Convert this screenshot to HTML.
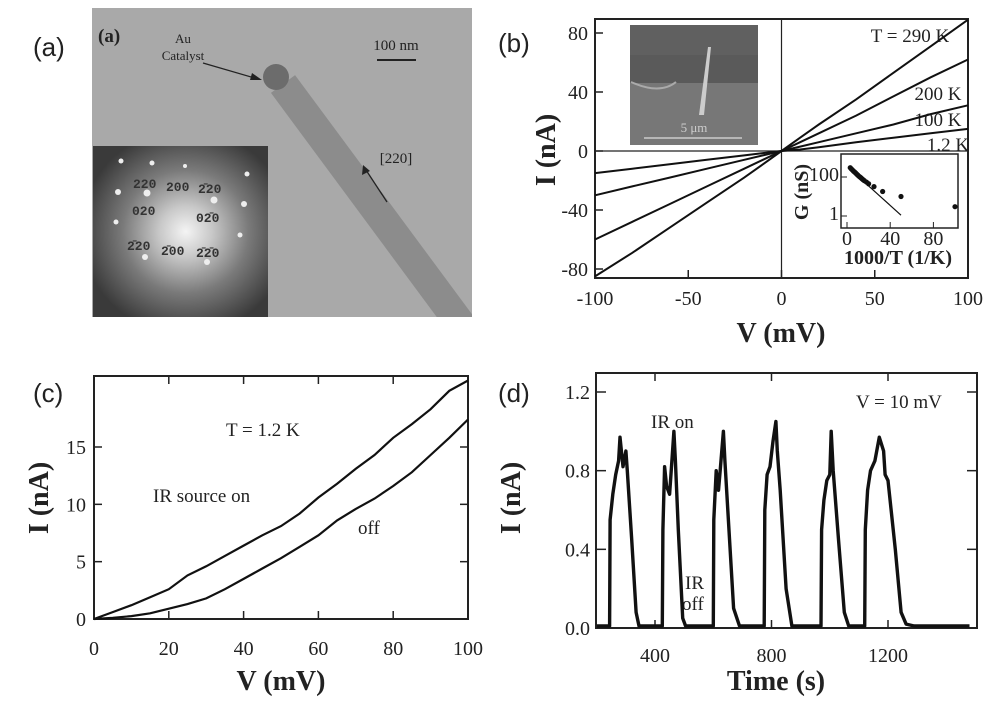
<!DOCTYPE html>
<html><head><meta charset="utf-8">
<style>
html,body{margin:0;padding:0;background:#fff;}
svg{display:block;}
.tk{font-family:"Liberation Serif",serif;font-size:20px;fill:#222;}
.ti{font-family:"Liberation Serif",serif;font-size:28px;font-weight:bold;fill:#222;}
.pl{font-family:"Liberation Sans",sans-serif;font-size:26px;fill:#222;}
.an{font-family:"Liberation Serif",serif;font-size:19px;fill:#222;}
</style></head>
<body>
<svg id="fig" width="1000" height="704" viewBox="0 0 1000 704" xmlns="http://www.w3.org/2000/svg">
<defs>
<radialGradient id="sad" cx="0.53" cy="0.5" r="0.6">
<stop offset="0" stop-color="#f4f4f4"/><stop offset="0.25" stop-color="#c8c8c8"/><stop offset="0.6" stop-color="#7a7a7a"/><stop offset="1" stop-color="#3a3a3a"/>
</radialGradient>
<clipPath id="clipA"><rect x="92" y="8" width="380" height="309"/></clipPath>
</defs>

<!-- Panel a -->
<g>
<text class="pl" x="33" y="56">(a)</text>
<rect x="92" y="8" width="380" height="309" fill="#a9a9a9"/>
<g clip-path="url(#clipA)">
<line x1="283" y1="84" x2="465" y2="330" stroke="#8c8c8c" stroke-width="30"/>
</g>
<circle cx="276" cy="77" r="13" fill="#6c6c6c"/>
<text x="98" y="42" font-family="Liberation Serif,serif" font-weight="bold" font-size="19" fill="#222">(a)</text>
<text x="183" y="43" text-anchor="middle" font-family="Liberation Serif,serif" font-size="13" fill="#222">Au</text>
<text x="183" y="60" text-anchor="middle" font-family="Liberation Serif,serif" font-size="13" fill="#222">Catalyst</text>
<line x1="203" y1="63" x2="258" y2="79" stroke="#222" stroke-width="1.3"/>
<polygon points="262,80 252,73 250,80" fill="#222"/>
<text x="396" y="50" text-anchor="middle" font-family="Liberation Serif,serif" font-size="15" fill="#222">100 nm</text>
<line x1="377" y1="60" x2="416" y2="60" stroke="#222" stroke-width="2"/>
<text x="396" y="163" text-anchor="middle" font-family="Liberation Serif,serif" font-size="15" fill="#222">[220]</text>
<line x1="387" y1="202" x2="366" y2="170" stroke="#222" stroke-width="1.3"/>
<polygon points="363,165 362,175 370,171" fill="#222"/>
<rect x="93" y="146" width="175" height="171" fill="url(#sad)"/>
<g fill="#eee">
<circle cx="121" cy="161" r="2.5"/><circle cx="152" cy="163" r="2.5"/><circle cx="185" cy="166" r="2"/><circle cx="247" cy="174" r="2.5"/>
<circle cx="118" cy="192" r="3"/><circle cx="147" cy="193" r="3.5"/><circle cx="214" cy="200" r="3.5"/><circle cx="244" cy="204" r="3"/>
<circle cx="116" cy="222" r="2.5"/><circle cx="240" cy="235" r="2.5"/><circle cx="145" cy="257" r="3"/><circle cx="207" cy="262" r="3"/>
</g>
<g font-family="Liberation Mono,monospace" font-size="13" font-weight="bold" fill="#333">
<text x="133" y="188">220</text><text x="166" y="191">200</text><text x="198" y="193">2̄20</text>
<text x="132" y="215">020</text><text x="196" y="222">02̄0</text>
<text x="127" y="250">2̄20</text><text x="161" y="255">2̄00</text><text x="196" y="257">2̄2̄0</text>
</g>
</g>

<!-- Panel b -->
<g id="pb">
<text class="pl" x="498" y="52">(b)</text>
<rect x="595" y="19" width="373" height="259" fill="none" stroke="#222" stroke-width="2"/>
<rect x="630" y="25" width="128" height="120" fill="#777"/>
<rect x="630" y="25" width="128" height="30" fill="#606060"/>
<rect x="630" y="55" width="128" height="28" fill="#5a5a5a"/>
<path d="M631 82 Q660 95 676 82" stroke="#aaa" stroke-width="2" fill="none"/>
<polygon points="708,47 711,47 704,115 699,115" fill="#ccc"/>
<text x="694" y="132" text-anchor="middle" font-family="Liberation Serif,serif" font-size="13" fill="#ccc">5 μm</text>
<line x1="644" y1="138" x2="742" y2="138" stroke="#ccc" stroke-width="1.5"/>
<text x="910" y="42" text-anchor="middle" class="an" font-size="17">T = 290 K</text>
<text x="938" y="100" text-anchor="middle" class="an" font-size="17">200 K</text>
<text x="938" y="126" text-anchor="middle" class="an" font-size="17">100 K</text>
<text x="948" y="151" text-anchor="middle" class="an" font-size="17">1.2 K</text>
<rect x="841" y="154" width="117" height="74" fill="#fff" stroke="#222" stroke-width="1.5"/>
<text class="ti" x="781" y="342" text-anchor="middle">V (mV)</text>
<text class="ti" transform="translate(555,150) rotate(-90)" text-anchor="middle">I (nA)</text>
</g>

<!-- Panel c -->
<g id="pc">
<text class="pl" x="33" y="402">(c)</text>
<rect x="94" y="376" width="374" height="243" fill="none" stroke="#222" stroke-width="2"/>
<text class="an" x="226" y="436" font-size="19">T = 1.2 K</text>
<text class="an" x="153" y="502" font-size="19">IR source on</text>
<text class="an" x="358" y="534" font-size="19">off</text>
<text class="ti" x="281" y="690" text-anchor="middle">V (mV)</text>
<text class="ti" transform="translate(48,498) rotate(-90)" text-anchor="middle">I (nA)</text>
</g>

<!-- Panel d -->
<g id="pd">
<text class="pl" x="498" y="402">(d)</text>
<rect x="596" y="373" width="381" height="255" fill="none" stroke="#222" stroke-width="2"/>
<text class="an" x="856" y="408" font-size="17">V = 10 mV</text>
<text class="an" x="651" y="428" font-size="16">IR on</text>
<text class="an" x="685" y="589" font-size="16">IR</text>
<text class="an" x="682" y="610" font-size="16">off</text>
<text class="ti" x="776" y="690" text-anchor="middle">Time (s)</text>
<text class="ti" transform="translate(520,498) rotate(-90)" text-anchor="middle">I (nA)</text>
</g>
</svg>
<script>
// ---- Panel b data ----
const bV = [-100,-80,-60,-40,-20,-10,0,10,20,40,60,80,100];
const b290 = [-85,-69,-52,-35,-18,-9,0,9,18,35,53,71,89];
const b200 = [-60,-48,-36,-24,-12,-6,0,6,12,24,37,50,62];
const b100 = [-30,-24,-18,-12,-6,-3,0,3,6,12,18,25,31];
const b12 = [-15,-12,-9,-6,-3,-1.4,0,1,2.5,6,9,12,15];
const bSeries = [b290,b200,b100,b12];
const bSeriesNames = ['curve-290k','curve-200k','curve-100k','curve-1-2k'];
const bXTicks = [-100,-50,0,50,100];
const bYTicks = [-80,-40,0,40,80];
// inset
const gInvT = [3,4,5,6,7,8,9,10,11,12,13,14,15,16,18,20,25,33,50,100];
const gVal = [300,260,230,200,180,160,140,125,110,100,90,80,72,65,55,45,32,18,10,3];
const gFitX = [2,10,20,30,40,50];
const gFitY = [350,110,35,11,3.5,1.1];
const gXTicks = [0,40,80];
const gYTicks = [1,100];
// ---- Panel c data ----
const cV = [0,5,10,15,20,25,30,35,40,45,50,55,60,65,70,75,80,85,90,95,100];
const cOn = [0,0.6,1.2,1.9,2.6,3.8,4.6,5.5,6.4,7.3,8.1,9.2,10.6,11.8,13.1,14.3,15.8,17.0,18.3,19.9,20.8];
const cOff = [0,0.1,0.25,0.5,0.9,1.3,1.8,2.6,3.5,4.4,5.3,6.3,7.3,8.6,9.6,10.5,11.6,12.8,14.3,15.8,17.4];
const cXTicks = [0,20,40,60,80,100];
const cYTicks = [0,5,10,15];
// ---- Panel d data ----
const dT = [200,244,246,255,265,275,280,290,300,305,320,335,345,425,427,433,440,450,458,465,470,480,495,505,600,602,610,618,625,635,640,650,670,690,775,777,785,795,805,815,820,830,850,870,970,972,980,990,1000,1005,1012,1030,1050,1065,1120,1122,1130,1140,1155,1170,1185,1190,1200,1225,1245,1262,1290,1400,1480];
const dI = [0.01,0.01,0.55,0.68,0.78,0.85,0.97,0.82,0.9,0.8,0.45,0.08,0.01,0.01,0.5,0.82,0.72,0.68,0.85,1.0,0.85,0.5,0.05,0.01,0.01,0.55,0.8,0.7,0.82,1.0,0.85,0.6,0.1,0.01,0.01,0.6,0.78,0.82,0.95,1.05,0.9,0.7,0.2,0.01,0.01,0.5,0.65,0.75,0.78,1.0,0.8,0.45,0.08,0.01,0.01,0.5,0.7,0.8,0.85,0.97,0.9,0.78,0.75,0.4,0.08,0.02,0.01,0.01,0.01];
const dXTicks = [400,800,1200];
const dYTicks = [0.0,0.4,0.8,1.2];

const NS='http://www.w3.org/2000/svg';
function mk(tag,attrs,parent){const e=document.createElementNS(NS,tag);for(const k in attrs)e.setAttribute(k,attrs[k]);parent.appendChild(e);return e;}
function lin(d0,d1,r0,r1){return v=>r0+(v-d0)*(r1-r0)/(d1-d0);}
function pathFrom(xs,ys,sx,sy){return xs.map((x,i)=>(i?'L':'M')+sx(x).toFixed(1)+' '+sy(ys[i]).toFixed(1)).join(' ');}

// Panel b
(function(){
 const g=document.getElementById('pb');
 const sx=lin(-100,100,595,968), sy=lin(0,80,151,33);
 mk('line',{x1:sx(0),y1:19,x2:sx(0),y2:278,stroke:'#222','stroke-width':1.2},g);
 mk('line',{x1:595,y1:sy(0),x2:968,y2:sy(0),stroke:'#222','stroke-width':1.2},g);
 bXTicks.forEach(v=>{
  mk('line',{x1:sx(v),y1:278,x2:sx(v),y2:270,stroke:'#222','stroke-width':1.5},g);
  const t=mk('text',{x:sx(v),y:305,'text-anchor':'middle',class:'tk'},g);t.textContent=v;
  
  
 });
 bYTicks.forEach(v=>{
  mk('line',{x1:595,y1:sy(v),x2:603,y2:sy(v),stroke:'#222','stroke-width':1.5},g);
  const t=mk('text',{x:588,y:sy(v)+7,'text-anchor':'end',class:'tk'},g);t.textContent=v;
  
  
 });
 bSeries.forEach((s,i)=>{
  const p=mk('path',{d:pathFrom(bV,s,sx,sy),fill:'none',stroke:'#111','stroke-width':2},g);
  
  
 });
 // inset
 const ix=lin(0,100,847,955), iy=v=>216-(Math.log10(v))*19.5;
 gXTicks.forEach(v=>{
  mk('line',{x1:ix(v),y1:228,x2:ix(v),y2:222,stroke:'#222'},g);
  const t=mk('text',{x:ix(v),y:245,'text-anchor':'middle',class:'tk','font-size':13},g);t.textContent=v;
  
  
 });
 gYTicks.forEach(v=>{
  mk('line',{x1:841,y1:iy(v),x2:847,y2:iy(v),stroke:'#222'},g);
  const t=mk('text',{x:839,y:iy(v)+4,'text-anchor':'end',class:'tk','font-size':11},g);t.textContent=v;
  
  
 });
 const xt=mk('text',{x:898,y:264,'text-anchor':'middle',class:'tk','font-size':13,'font-weight':'bold'},g);xt.textContent='1000/T (1/K)';
 
 
 const yt=mk('text',{transform:'translate(808,192) rotate(-90)','text-anchor':'middle',class:'tk','font-size':12,'font-weight':'bold'},g);yt.textContent='G (nS)';
 
 
 gInvT.forEach((v,i)=>{
  const c=mk('circle',{cx:ix(v),cy:Math.max(158,iy(gVal[i])),r:2.6,fill:'#111'},g);
  
  
 });
 const f=mk('path',{d:pathFrom(gFitX,gFitY,ix,v=>Math.max(156,iy(v))),fill:'none',stroke:'#111','stroke-width':1.2},g);
 
 
})();

// Panel c
(function(){
 const g=document.getElementById('pc');
 const sx=lin(0,100,94,468), sy=lin(0,15,619,447);
 cXTicks.forEach(v=>{
  mk('line',{x1:sx(v),y1:619,x2:sx(v),y2:611,stroke:'#222','stroke-width':1.5},g);
  mk('line',{x1:sx(v),y1:376,x2:sx(v),y2:384,stroke:'#222','stroke-width':1.5},g);
  const t=mk('text',{x:sx(v),y:655,'text-anchor':'middle',class:'tk'},g);t.textContent=v;
  
  
 });
 cYTicks.forEach(v=>{
  mk('line',{x1:94,y1:sy(v),x2:102,y2:sy(v),stroke:'#222','stroke-width':1.5},g);
  mk('line',{x1:468,y1:sy(v),x2:460,y2:sy(v),stroke:'#222','stroke-width':1.5},g);
  const t=mk('text',{x:86,y:sy(v)+7,'text-anchor':'end',class:'tk'},g);t.textContent=v;
  
  
 });
 const a=mk('path',{d:pathFrom(cV,cOn,sx,sy),fill:'none',stroke:'#111','stroke-width':2.2},g);
 
 
 const b=mk('path',{d:pathFrom(cV,cOff,sx,sy),fill:'none',stroke:'#111','stroke-width':2.2},g);
 
 
})();

// Panel d
(function(){
 const g=document.getElementById('pd');
 const sx=lin(400,1200,655,888), sy=lin(0,1.2,628,392);
 dXTicks.forEach(v=>{
  mk('line',{x1:sx(v),y1:628,x2:sx(v),y2:620,stroke:'#222','stroke-width':1.5},g);
  mk('line',{x1:sx(v),y1:373,x2:sx(v),y2:381,stroke:'#222','stroke-width':1.5},g);
  const t=mk('text',{x:sx(v),y:662,'text-anchor':'middle',class:'tk'},g);t.textContent=v;
  
  
 });
 dYTicks.forEach(v=>{
  mk('line',{x1:596,y1:sy(v),x2:606,y2:sy(v),stroke:'#222','stroke-width':1.5},g);
  mk('line',{x1:977,y1:sy(v),x2:967,y2:sy(v),stroke:'#222','stroke-width':1.5},g);
  const t=mk('text',{x:590,y:sy(v)+7,'text-anchor':'end',class:'tk'},g);t.textContent=v.toFixed(1);
  
  
 });
 const p=mk('path',{d:pathFrom(dT,dI,sx,sy),fill:'none',stroke:'#111','stroke-width':3.4,'stroke-linejoin':'round'},g);
 
 
})();
</script>
</body></html>
